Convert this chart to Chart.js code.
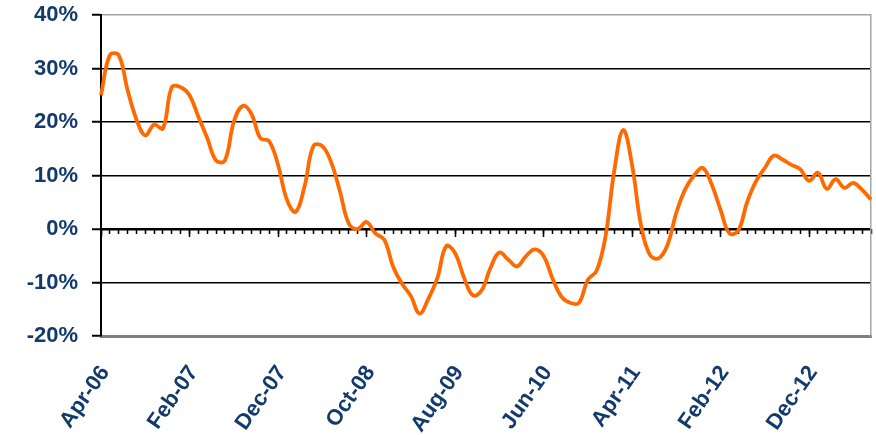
<!DOCTYPE html>
<html>
<head>
<meta charset="utf-8">
<script src="https://cdn.jsdelivr.net/npm/chart.js@4/dist/chart.umd.min.js"></script>
<style>
  html, body { margin: 0; padding: 0; background: #fff; }
  #wrap { width: 876px; height: 435px; }
</style>
</head>
<body>
<div id="wrap"><canvas id="chart" width="876" height="435"></canvas></div>
<script>
// monthly, Apr-06 .. Jul-13
const months = [
  'Apr-06', 'May-06', 'Jun-06', 'Jul-06', 'Aug-06', 'Sep-06', 'Oct-06', 'Nov-06', 'Dec-06',
  'Jan-07', 'Feb-07', 'Mar-07', 'Apr-07', 'May-07', 'Jun-07', 'Jul-07', 'Aug-07', 'Sep-07', 'Oct-07', 'Nov-07', 'Dec-07',
  'Jan-08', 'Feb-08', 'Mar-08', 'Apr-08', 'May-08', 'Jun-08', 'Jul-08', 'Aug-08', 'Sep-08', 'Oct-08', 'Nov-08', 'Dec-08',
  'Jan-09', 'Feb-09', 'Mar-09', 'Apr-09', 'May-09', 'Jun-09', 'Jul-09', 'Aug-09', 'Sep-09', 'Oct-09', 'Nov-09', 'Dec-09',
  'Jan-10', 'Feb-10', 'Mar-10', 'Apr-10', 'May-10', 'Jun-10', 'Jul-10', 'Aug-10', 'Sep-10', 'Oct-10', 'Nov-10', 'Dec-10',
  'Jan-11', 'Feb-11', 'Mar-11', 'Apr-11', 'May-11', 'Jun-11', 'Jul-11', 'Aug-11', 'Sep-11', 'Oct-11', 'Nov-11', 'Dec-11',
  'Jan-12', 'Feb-12', 'Mar-12', 'Apr-12', 'May-12', 'Jun-12', 'Jul-12', 'Aug-12', 'Sep-12', 'Oct-12', 'Nov-12', 'Dec-12',
  'Jan-13', 'Feb-13', 'Mar-13', 'Apr-13', 'May-13', 'Jun-13', 'Jul-13',
];

// year-on-year change, %
const growth = [
  25, 32.5, 32.5, 26, 20.5, 17.5, 19.5, 18.8, 26.5, 26.5,
  25, 21, 17, 12.8, 12.8, 20, 23, 21.5, 17, 16.4,
  12, 5.5, 3.2, 8, 15.5, 15.5, 12.5, 7, 1, 0,
  1.3, -0.8, -2, -7, -10.2, -12.5, -15.8, -13, -9.2, -3.2,
  -4.5, -9, -12.4, -11.5, -7.3, -4.4, -5.7, -7, -5.1, -3.8,
  -5, -9.2, -12.6, -13.8, -13.8, -9.5, -7.8, -1.4, 11, 18.5,
  12, 0.8, -4.8, -5.5, -3, 3, 7.4, 10, 11.4, 8.3,
  3.6, -0.8, -0.3, 5, 8.9, 11.4, 13.7, 13, 12, 11.2,
  9, 10.5, 7.5, 9.3, 7.7, 8.6, 7.3, 5.5,
];

const yTicks = [-20, -10, 0, 10, 20, 30, 40];
const labelStep = 10;

const navy = '#123a6b';
const orange = '#ff6a00';
const labelFont = { family: '"Liberation Sans", Arial, sans-serif', size: 22, weight: 'bold' };

const everyNth = n => scale => {
  scale.ticks = scale.ticks.filter(t => t.value % n === 0);
};

new Chart(document.getElementById('chart'), {
  type: 'line',
  data: {
    labels: months,
    datasets: [
      {
        data: growth,
        borderColor: orange,
        borderWidth: 3.8,
        pointRadius: 0,
        tension: 0.4,
        fill: false,
      },
    ],
  },
  options: {
    responsive: false,
    animation: false,
    layout: { padding: { left: 0, top: 15, right: 5, bottom: 0 } },
    plugins: {
      legend: { display: false },
      tooltip: { enabled: false },
    },
    scales: {
      x: {
        type: 'category',
        offset: false,
        grid: { display: false, drawTicks: false },
        border: { color: '#808080', width: 3 },
        ticks: {
          autoSkip: false,
          minRotation: 55,
          maxRotation: 55,
          color: navy,
          font: labelFont,
          padding: 25,
          labelOffset: 4,
        },
        afterBuildTicks: everyNth(labelStep),
        afterFit: s => { s.height = 99; },
      },
      // small month ticks hanging under the zero line
      xMinor: {
        type: 'category',
        position: { y: 0 },
        offset: false,
        border: { display: false },
        grid: { drawOnChartArea: false, tickLength: 5, tickColor: '#000', tickWidth: 1.5 },
        ticks: { display: false, autoSkip: false },
      },
      xMajor: {
        type: 'category',
        position: { y: 0 },
        offset: false,
        border: { display: false },
        grid: { drawOnChartArea: false, tickLength: 8, tickColor: '#000', tickWidth: 1.5 },
        ticks: { display: false, autoSkip: false },
        afterBuildTicks: everyNth(labelStep),
      },
      y: {
        min: -20,
        max: 40,
        afterBuildTicks: s => { s.ticks = yTicks.map(v => ({ value: v })); },
        grid: {
          color: ctx => {
            const v = ctx.tick && ctx.tick.value;
            if (v === 40) return '#a6a6a6';
            if (v === -20) return 'rgba(0,0,0,0)';
            return '#000';
          },
          lineWidth: ctx => (ctx.tick && ctx.tick.value === 0 ? 2.5 : 1.5),
          tickLength: 9,
          tickColor: '#000',
          tickWidth: 2,
        },
        border: { color: '#000', width: 2 },
        ticks: {
          color: navy,
          font: labelFont,
          padding: 14,
          callback: v => v + '%',
        },
        afterFit: s => {
          s.width = 101;
          s.paddingTop = 0;
          s.paddingBottom = 0;
        },
      },
      yRight: {
        position: 'right',
        min: -20,
        max: 40,
        grid: { drawOnChartArea: false, drawTicks: false },
        ticks: { display: false },
        border: { color: '#a6a6a6', width: 1.5 },
        afterFit: s => {
          s.paddingTop = 0;
          s.paddingBottom = 0;
        },
      },
    },
  },
});
</script>
</body>
</html>
